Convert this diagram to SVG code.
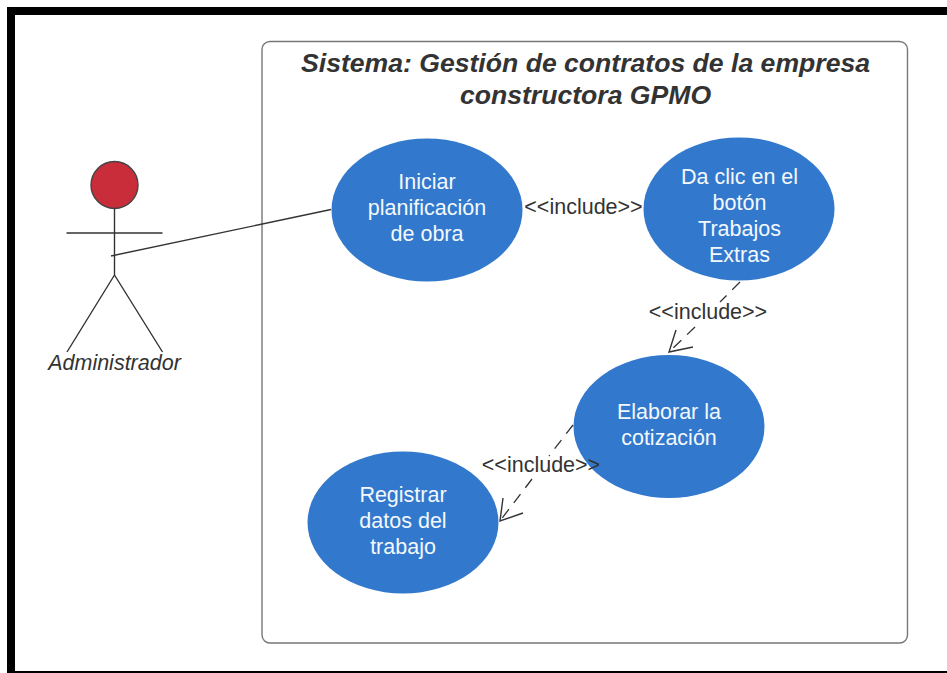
<svg xmlns="http://www.w3.org/2000/svg" width="947" height="673" viewBox="0 0 947 673">
<style>
text{font-family:"Liberation Sans",Arial,sans-serif}
.uc{fill:#3278cc}
.ut{fill:#f4f8fd;font-size:21.500px;text-anchor:middle}
.inc{fill:#333;font-size:21.500px;text-anchor:middle}
.dash{fill:none;stroke:#333;stroke-width:1.3;stroke-dasharray:11 8}
.solid{fill:none;stroke:#333;stroke-width:1.4}
</style>
<rect width="947" height="673" fill="#fff"/>
<path d="M7 673V7H947V15H15V671H947V673Z" fill="#000"/>
<g id="system">
<rect x="262" y="41.500" width="645.500" height="601.500" rx="8" fill="#fff" stroke="#777" stroke-width="1.400"/>
<text x="585.500" y="72" font-size="26.600" font-weight="bold" font-style="italic" fill="#333" text-anchor="middle">Sistema: Gestión de contratos de la empresa</text>
<text x="585.500" y="104" font-size="26.600" font-weight="bold" font-style="italic" fill="#333" text-anchor="middle">constructora GPMO</text>
</g>
<g id="actor">
<circle cx="114.500" cy="185" r="23.500" fill="#c92d39" stroke="#444" stroke-width="1.400"/>
<path class="solid" d="M114.500 208.500V275M66.500 233H162.500M114.500 275L67 352M114.500 275L162.500 352"/>
<text x="114.500" y="370" font-size="21.500" font-style="italic" fill="#333" text-anchor="middle">Administrador</text>
</g>
<g id="uc1">
<ellipse class="uc" cx="427" cy="210" rx="95.500" ry="71.500"/>
<text class="ut" x="427" y="188.500">Iniciar</text>
<text class="ut" x="427" y="214.500">planificación</text>
<text class="ut" x="427" y="240.500">de obra</text>
</g>
<g id="uc2">
<ellipse class="uc" cx="739" cy="209" rx="95.500" ry="71.500"/>
<text class="ut" x="739.500" y="183.500">Da clic en el</text>
<text class="ut" x="739.500" y="209.500">botón</text>
<text class="ut" x="739.500" y="235.500">Trabajos</text>
<text class="ut" x="739.500" y="261.500">Extras</text>
</g>
<g id="uc3">
<ellipse class="uc" cx="669" cy="426.500" rx="95.500" ry="71.500"/>
<text class="ut" x="669" y="418.500">Elaborar la</text>
<text class="ut" x="669" y="444.500">cotización</text>
</g>
<g id="uc4">
<ellipse class="uc" cx="403" cy="522.500" rx="95.500" ry="71"/>
<text class="ut" x="403" y="501.500">Registrar</text>
<text class="ut" x="403" y="527.500">datos del</text>
<text class="ut" x="403" y="553.500">trabajo</text>
</g>
<g id="connectors">
<path class="solid" d="M111 256L331 209.500"/>
<path class="dash" d="M740 282L720 302M695 327L669 352"/>
<path class="solid" d="M676 330L669 352L693 347"/>
<path class="dash" d="M573 425L549 456M532 479L500 521"/>
<path class="solid" d="M503 498L500 521L523 513"/>
</g>
<g id="labels">
<text class="inc" x="583.500" y="214">&lt;&lt;include&gt;&gt;</text>
<text class="inc" x="708" y="319">&lt;&lt;include&gt;&gt;</text>
<text class="inc" x="541" y="472">&lt;&lt;include&gt;&gt;</text>
</g>
</svg>
